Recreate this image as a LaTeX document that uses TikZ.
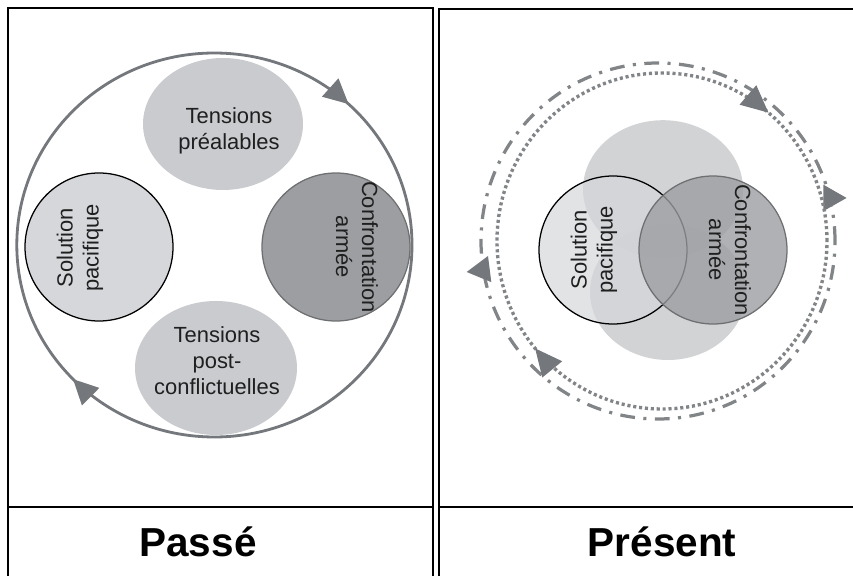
\documentclass[tikz,border=0pt]{standalone}
\usepackage{fontspec}
\setmainfont{Liberation Sans}
\usetikzlibrary{shapes.geometric, arrows.meta, decorations.markings}

\definecolor{tensgray}{HTML}{C9CBCE}
\definecolor{peacegray}{HTML}{D5D7DA}
\definecolor{wargray}{HTML}{9C9EA1}
\definecolor{loopgray}{HTML}{74777B}

\begin{document}
\begin{tikzpicture}[
        panel/.style={draw=black, line width=1.3pt},
        tensbox/.style={ellipse, fill=tensgray, inner sep=0pt, minimum width=4cm, minimum height=3.3cm},
        peacebox/.style={circle, draw=black, line width=0.9pt, fill=peacegray, inner sep=0pt, minimum size=3.7cm},
        warbox/.style={circle, draw=wargray!70!black, line width=0.9pt, fill=wargray, inner sep=0pt, minimum size=3.7cm},
        txt/.style={font=\fontsize{15.6}{18.5}\selectfont, align=center, text=black!88},
        capt/.style={font=\fontsize{28.8}{34}\selectfont\bfseries, anchor=base},
        loopline/.style={draw=loopgray, line width=2pt},
        dashdotline/.style={draw=loopgray!90, line width=2.3pt, dash pattern=on 10.5pt off 6pt on 2.2pt off 6pt},
        dotline/.style={draw=loopgray!90, line width=2.4pt, dash pattern=on 2.2pt off 2pt}
    ]
        \useasboundingbox (0,0) rectangle (21.325,14.4);
        \clip (0,0) rectangle (21.325,14.4);

        % Left panel: the old cycle
        \draw[panel] (0.19,-0.5) rectangle (10.83,14.21);
        \draw[panel] (0.19,1.725) -- (10.83,1.725);

        \node[tensbox] (pre) at (5.575,11.3) {};
        \node[peacebox] (peace) at (2.475,8.225) {};
        \node[warbox] (war) at (8.4,8.225) {};
        \node[tensbox, minimum width=4.05cm, minimum height=3.35cm] (post) at (5.4,5.2) {};

        \node[txt] (pre-lbl) at (5.725,11.125) {Tensions\\préalables};
        \node[txt, rotate=90] (peace-lbl) at (2.0,8.2) {Solution\\pacifique};
        \node[txt, rotate=-90] (war-lbl) at (8.925,8.225) {Confrontation\\armée};
        \node[txt] (post-lbl) at (5.425,5.375) {Tensions\\post-\\conflictuelles};

        % one loop, clockwise
        \draw[loopline, postaction={decorate}, decoration={markings,
                mark=at position 0.13 with {\arrowreversed[loopgray]{Triangle[length=0.62cm, width=0.6cm]}},
                mark=at position 0.622 with {\arrowreversed[loopgray]{Triangle[length=0.62cm, width=0.6cm]}}}]
            (5.36,8.275) ellipse [x radius=4.94cm, y radius=4.8cm];

        \node[capt] (past) at (4.95,0.5) {Passé};

        % Right panel: everything overlaps
        \draw[panel] (10.98,-0.5) rectangle (21.8,14.175);
        \draw[panel] (10.98,1.725) -- (21.8,1.725);

        % outer ring: heads turned sideways
        \draw[dashdotline, postaction={decorate}, decoration={markings,
                mark=at position 0.039 with {\fill[loopgray, rotate=-104] (0.42,0) -- (-0.16,0.33) -- (-0.16,-0.33) -- cycle;},
                mark=at position 0.526 with {\fill[loopgray, rotate=-92] (0.42,0) -- (-0.16,0.33) -- (-0.16,-0.33) -- cycle;}}]
            (16.45,8.375) ellipse [x radius=4.425cm, y radius=4.45cm];
        % inner ring, clockwise
        \draw[dotline, postaction={decorate}, decoration={markings,
                mark=at position 0.139 with {\arrowreversed[loopgray]{Triangle[length=0.68cm, width=0.62cm]}},
                mark=at position 0.611 with {\arrowreversed[loopgray]{Triangle[length=0.68cm, width=0.62cm]}}}]
            (16.55,8.375) ellipse [x radius=4.125cm, y radius=4.2cm];

        \node[tensbox, fill opacity=0.85, minimum height=3.45cm] (pre2) at (16.575,9.67) {};
        \node[tensbox, fill opacity=0.85, minimum width=3.9cm, minimum height=3.4cm] (post2) at (16.7,7.1) {};
        \node[peacebox, fill opacity=0.7] (peace2) at (15.325,8.15) {};
        \node[warbox, fill opacity=0.8] (war2) at (17.825,8.15) {};

        \node[txt, rotate=90] (peace2-lbl) at (14.85,8.15) {Solution\\pacifique};
        \node[txt, rotate=-90] (war2-lbl) at (18.25,8.15) {Confrontation\\armée};

        \node[capt] (now) at (16.55,0.5) {Présent};
    \end{tikzpicture}
\end{document}
